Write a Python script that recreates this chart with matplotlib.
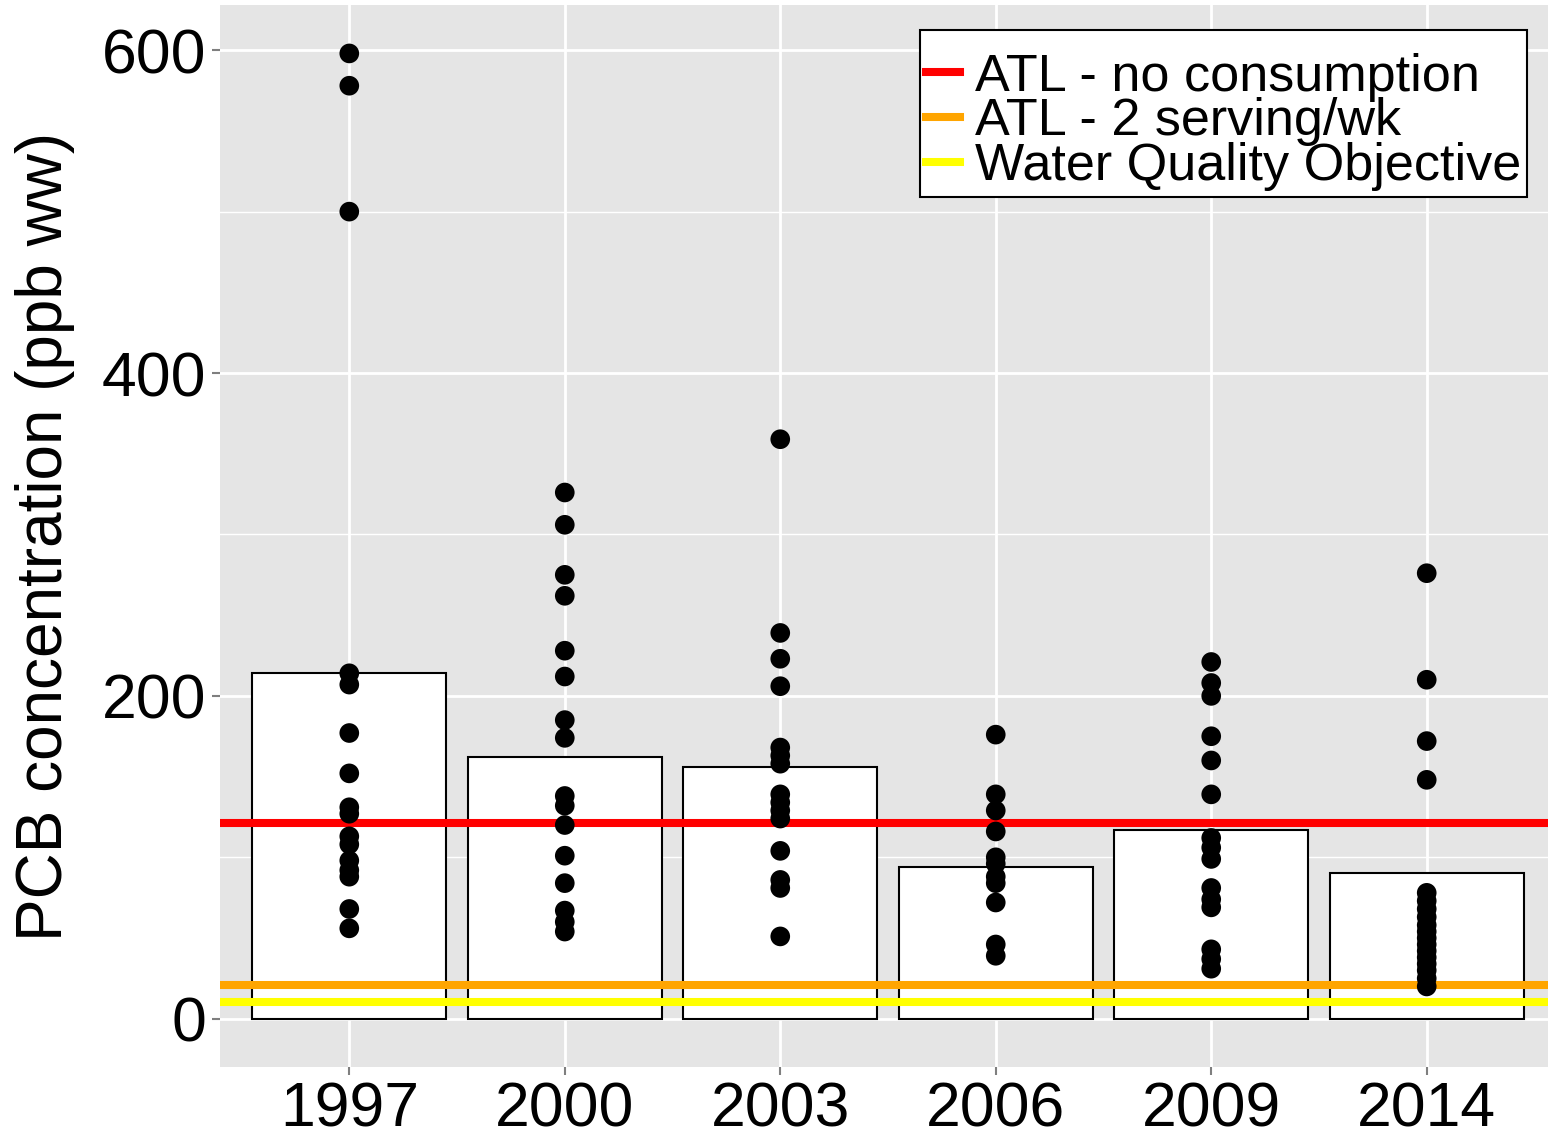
import numpy as np
import matplotlib
matplotlib.use("Agg")
import matplotlib.pyplot as plt
from matplotlib.ticker import MultipleLocator

# survey years and bar heights
years = ["1997", "2000", "2003", "2006", "2009", "2014"]
bar_heights = [214, 162, 156, 94, 117, 90]

# individual sample concentrations (ppb ww)
pts_1997 = [598, 578, 500, 214, 207, 177, 152, 131, 127, 113, 108, 98, 92, 88, 68, 56]
pts_2000 = [326, 306, 275, 262, 228, 212, 185, 174, 138, 132, 120, 101, 84, 67, 60, 54]
pts_2003 = [359, 239, 223, 206, 168, 163, 158, 139, 134, 129, 124, 104, 86, 81, 51]
pts_2006 = [176, 139, 129, 116, 100, 96, 88, 84, 72, 46, 39]
pts_2009 = [221, 208, 200, 175, 160, 139, 112, 106, 99, 81, 74, 69, 43, 37, 31]
pts_2014 = [276, 210, 172, 148, 78, 73, 68, 63, 58, 54, 50, 46, 42, 38, 34, 30, 25, 20]
points = [pts_1997, pts_2000, pts_2003, pts_2006, pts_2009, pts_2014]

# thresholds
thr_labels = ["ATL - no consumption", "ATL - 2 serving/wk", "Water Quality Objective"]
thr_values = [121, 21, 10.5]
thr_colors = ["#FF0000", "#FFA500", "#FFFF00"]

plt.rcParams["font.family"] = ["Liberation Sans", "DejaVu Sans"]

fig = plt.figure(figsize=(15.48, 11.37), dpi=100)
ax = fig.add_axes([220 / 1548, 70 / 1137, 1336 / 1548, 1062 / 1137])
ax.set_facecolor("#E5E5E5")

x = np.arange(len(years))
ax.bar(x, bar_heights, width=0.9, color="white", edgecolor="black", linewidth=1.5, zorder=2)

for lab, val, col in zip(thr_labels, thr_values, thr_colors):
    ax.axhline(val, color=col, linewidth=5.8, label=lab, zorder=3)

for i, vals in enumerate(points):
    ax.scatter(np.full(len(vals), i), vals, s=200, color="black", edgecolors="none", zorder=4)

ax.set_xlim(-0.6, 5.6)
ax.set_ylim(-29.9, 628)
ax.set_xticks(x)
ax.set_xticklabels(years)
ax.set_yticks([0, 200, 400, 600])
ax.yaxis.set_minor_locator(MultipleLocator(100))

ax.grid(which="major", color="white", linewidth=2, zorder=0)
ax.grid(which="minor", axis="y", color="white", linewidth=1, zorder=0)
ax.set_axisbelow(True)
for s in ax.spines.values():
    s.set_visible(False)

ax.tick_params(axis="both", which="major", length=6, width=1.5, color="#7F7F7F",
               labelsize=45, labelcolor="black", pad=4)
ax.tick_params(axis="y", which="minor", length=0)

ax.set_ylabel("PCB concentration (ppb ww)", fontsize=46, labelpad=19)

leg = ax.legend(loc="upper right", bbox_to_anchor=(1527 / 1548, 1 - 30 / 1137),
                bbox_transform=fig.transFigure, borderaxespad=0, fontsize=37.5,
                frameon=True, fancybox=False, handlelength=0.66, handletextpad=0.28,
                labelspacing=-0.08, borderpad=0.11, title=" ", title_fontsize=16)
leg.get_frame().set_edgecolor("black")
leg.get_frame().set_linewidth(1.5)
leg.get_frame().set_facecolor("white")
leg.get_frame().set_alpha(1)

fig.savefig("out.png", dpi=100)
